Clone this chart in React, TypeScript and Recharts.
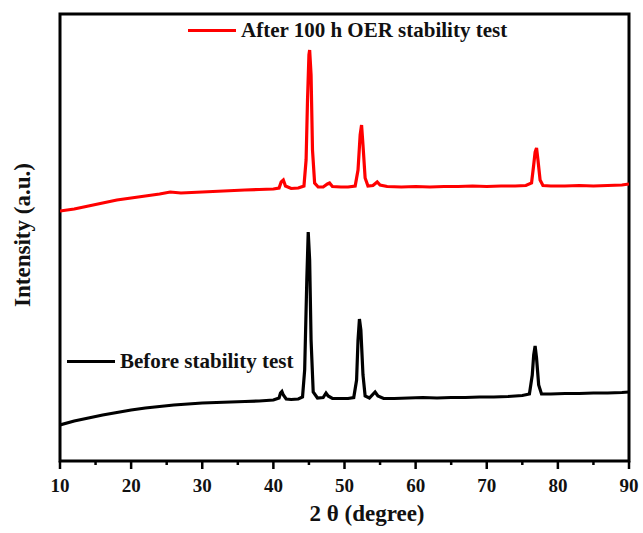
import { LineChart, Line, XAxis, YAxis, ReferenceArea } from 'recharts';

// 2θ positions and intensities (a.u.)
const redAngles = [
  10, 12, 14, 16, 18, 20, 22, 24, 25.5, 27, 30, 33, 36, 38, 40, 40.8, 41.1, 41.4, 41.7, 42.5,
  43.5, 44.3, 44.6, 44.8, 45.0, 45.1, 45.3, 45.5, 45.8, 46.3, 47.0, 47.6, 47.9, 48.3, 49.5,
  50.5, 51.5, 51.9, 52.2, 52.4, 52.6, 52.9, 53.3, 54.0, 54.6, 55.0, 56, 58, 60, 62, 64, 66,
  68, 70, 72, 74, 75.5, 76.3, 76.6, 76.8, 77.0, 77.2, 77.5, 77.9, 79, 81, 83, 85, 87, 89, 90,
];
const redIntensity = [
  250, 252, 255, 258, 261, 263, 265, 267, 269, 268, 269, 270, 271, 271.5, 272, 273, 279, 281, 275, 272.5,
  273, 275, 301, 361, 406, 411, 386, 311, 278, 274, 274, 277, 278, 274.5, 274,
  274, 275, 291, 326, 336, 316, 283, 275, 275.5, 279, 276, 274.5, 274, 274.5, 274, 274.5, 274.5,
  275, 274.5, 275, 275, 275.5, 278, 296, 309, 313, 301, 281, 275.5, 275, 275, 275.5, 275, 275.5, 276, 277,
];

const blackAngles = [
  10, 12, 14, 16, 18, 20, 22, 24, 26, 28, 30, 32, 34, 36, 38, 40, 40.8, 41.0, 41.2, 41.4,
  41.8, 42.5, 43.5, 44.1, 44.4, 44.7, 44.9, 45.1, 45.3, 45.6, 46.2, 47.0, 47.4, 47.7, 48.3,
  49.5, 50.5, 51.3, 51.7, 51.9, 52.1, 52.3, 52.6, 52.9, 53.5, 54.3, 54.7, 55.5, 57, 59, 61,
  63, 65, 67, 69, 71, 73, 75, 76.0, 76.4, 76.6, 76.8, 77.0, 77.3, 77.7, 79, 81, 83, 85, 87, 89, 90,
];
const blackIntensity = [
  36, 40, 43, 46, 48.5, 51, 53, 54.5, 56, 57, 58, 58.5, 59, 59.5, 60, 61, 63, 68, 69.5, 66,
  62, 61.5, 62, 64, 91, 181, 229, 201, 121, 69, 63, 63.5, 68, 65, 62.5,
  62.5, 62.5, 63.5, 81, 121, 142, 131, 86, 65, 63, 69, 65, 62.5, 62.5, 63, 63.5,
  63, 63.5, 63.5, 64, 64, 64.5, 65.5, 67, 86, 106, 115, 103, 76, 67, 67, 67.5, 67.5, 68, 68, 68.5, 69,
];

const xTicks = [10, 15, 20, 25, 30, 35, 40, 45, 50, 55, 60, 65, 70, 75, 80, 85, 90];

const redData = redAngles.map((a, i) => ({ angle: a, value: redIntensity[i] }));
const blackData = blackAngles.map((a, i) => ({ angle: a, value: blackIntensity[i] }));

const FONT = '"Liberation Serif", "Times New Roman", serif';

function AxisTick(props: any) {
  const { x, y, payload } = props;
  const major = payload.value % 10 === 0;
  return (
    <g>
      <line x1={x} x2={x} y1={y} y2={y + (major ? 8 : 4)} stroke="#000" strokeWidth={2.5} />
      {major && (
        <text x={x} y={y + 31} textAnchor="middle" fontFamily={FONT} fontWeight="bold" fontSize={19} fill="#111">
          {payload.value}
        </text>
      )}
    </g>
  );
}

function LegendRow({ color, label, left, top }: { color: string; label: string; left: number; top: number }) {
  return (
    <div style={{ position: 'absolute', left, top, display: 'flex', alignItems: 'center', fontFamily: FONT, fontWeight: 'bold', fontSize: 21, color: '#111', whiteSpace: 'nowrap' }}>
      <div style={{ width: 48, height: 3, background: color, marginRight: 5 }} />
      <span>{label}</span>
    </div>
  );
}

export default function App() {
  return (
    <div style={{ position: 'absolute', left: 0, top: 0, width: 643, height: 533, background: '#fff' }}>
      <LineChart width={643} height={533} margin={{ top: 14, right: 14, left: 60, bottom: 42 }}>
        <XAxis
          dataKey="angle"
          type="number"
          domain={[10, 90]}
          ticks={xTicks}
          interval={0}
          allowDataOverflow
          height={30}
          tickSize={0}
          tickMargin={0}
          tickLine={false}
          axisLine={false}
          tick={<AxisTick />}
        />
        <YAxis type="number" domain={[0, 447]} hide allowDataOverflow />
        <Line data={blackData} dataKey="value" stroke="#000" strokeWidth={3.2} dot={false} isAnimationActive={false} type="linear" />
        <Line data={redData} dataKey="value" stroke="#ff0000" strokeWidth={3.2} dot={false} isAnimationActive={false} type="linear" />
        <ReferenceArea x1={10} x2={90} y1={0} y2={447} fill="none" stroke="#000" strokeWidth={3} ifOverflow="visible" />
      </LineChart>
      <LegendRow color="#ff0000" label="After 100 h OER stability test" left={188} top={18} />
      <LegendRow color="#000" label="Before stability test" left={67} top={349} />
      <div style={{ position: 'absolute', left: 367, top: 501, transform: 'translateX(-50%)', whiteSpace: 'nowrap', fontFamily: FONT, fontWeight: 'bold', fontSize: 23, color: '#111' }}>
        2 θ (degree)
      </div>
      <div style={{ position: 'absolute', left: 23, top: 235, transform: 'translate(-50%, -50%) rotate(-90deg)', whiteSpace: 'nowrap', fontFamily: FONT, fontWeight: 'bold', fontSize: 23, color: '#111' }}>
        Intensity (a.u.)
      </div>
    </div>
  );
}
